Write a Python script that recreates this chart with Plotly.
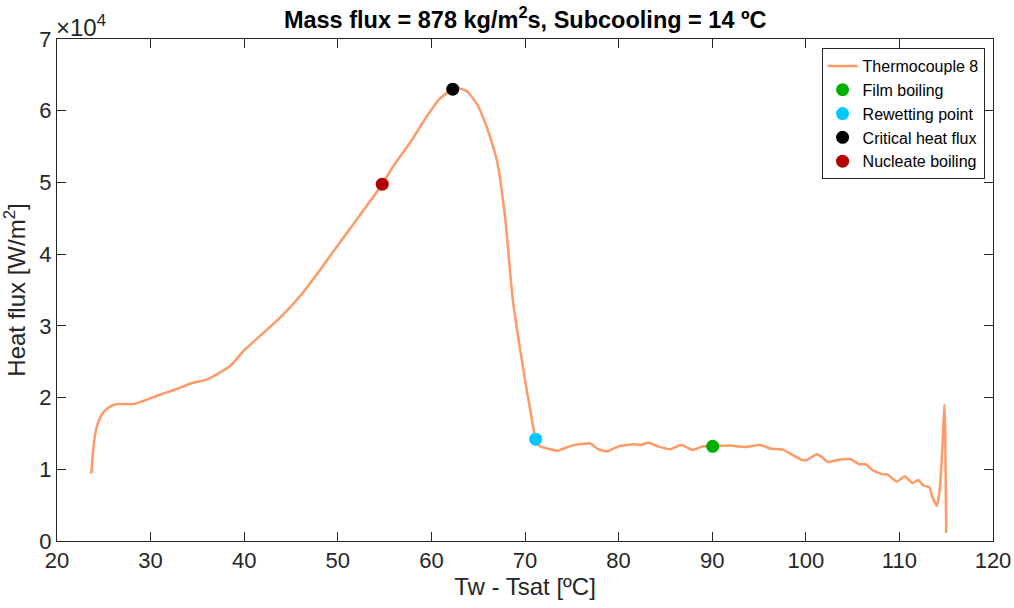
import plotly.graph_objects as go

# Thermocouple 8 curve: wall superheat [ºC] and heat flux [W/m^2]
tw_tsat = [23.66, 23.9, 24.24, 24.78, 25.5, 26.4, 28.2, 29.6, 31.0, 32.8, 34.6, 36.0,
           38.5, 40.0, 41.7, 43.8, 46.0, 48.1, 50.2, 52.4, 54.75, 55.9, 57.7, 59.5,
           60.9, 62.28, 63.0, 63.8, 64.84, 65.9, 67.0, 67.9, 68.7, 70.0, 70.5, 71.14,
           71.6, 72.7, 73.5, 75.0, 76.6, 77.0, 77.8, 78.7, 80.0, 81.6, 82.3, 83.2,
           84.2, 85.5, 86.7, 87.9, 89.0, 90.05, 91.9, 93.5, 95.1, 96.2, 97.6, 98.6,
           99.6, 100.1, 101.2, 101.7, 102.4, 103.4, 104.8, 105.7, 106.4, 107.1, 108.2,
           108.7, 109.7, 110.6, 111.4, 112.0, 112.6, 113.2, 113.5, 114.0, 114.3, 114.6,
           114.8, 114.9, 115.0]
heat_flux = [0.94, 1.32, 1.59, 1.76, 1.86, 1.91, 1.91, 1.97, 2.04, 2.12, 2.21, 2.25,
             2.44, 2.66, 2.86, 3.11, 3.42, 3.78, 4.16, 4.55, 4.975, 5.22, 5.55, 5.92,
             6.17, 6.30, 6.31, 6.27, 6.10, 5.78, 5.31, 4.48, 3.36, 2.25, 1.87, 1.42,
             1.32, 1.28, 1.26, 1.33, 1.36, 1.36, 1.28, 1.25, 1.32, 1.35, 1.34, 1.37,
             1.32, 1.28, 1.34, 1.27, 1.32, 1.32, 1.33, 1.31, 1.34, 1.29, 1.27, 1.20,
             1.13, 1.13, 1.21, 1.17, 1.10, 1.13, 1.14, 1.07, 1.07, 0.99, 0.93,
             0.93, 0.83, 0.90, 0.81, 0.85, 0.77, 0.75, 0.62, 0.49, 0.71, 1.32,
             1.90, 1.50, 0.11]
heat_flux = [v * 1e4 for v in heat_flux]

# Characteristic points
point_names = ["Film boiling", "Rewetting point", "Critical heat flux", "Nucleate boiling"]
point_x = [90.05, 71.14, 62.28, 54.75]
point_y = [1.32e4, 1.42e4, 6.30e4, 4.975e4]
point_colors = ["#00B000", "#00C8FF", "#000000", "#B40000"]

x_ticks = [20, 30, 40, 50, 60, 70, 80, 90, 100, 110, 120]
y_ticks = [0, 1e4, 2e4, 3e4, 4e4, 5e4, 6e4, 7e4]
y_tick_labels = ["0", "1", "2", "3", "4", "5", "6", "7"]

FONT = "Liberation Sans, Arial, Helvetica, sans-serif"
AXC = "#262626"

fig = go.Figure()
fig.add_trace(go.Scatter(x=tw_tsat, y=heat_flux, mode="lines", name="Thermocouple 8",
                         line=dict(color="#FF9966", width=2.5, shape="spline", smoothing=0.5)))
for n, xv, yv, c in zip(point_names, point_x, point_y, point_colors):
    fig.add_trace(go.Scatter(x=[xv], y=[yv], mode="markers", name=n,
                             marker=dict(color=c, size=13, line=dict(width=0))))

axis_common = dict(showline=True, linecolor=AXC, linewidth=1, mirror="allticks",
                   ticks="inside", ticklen=9, tickcolor=AXC, tickwidth=1,
                   showgrid=False, zeroline=False, automargin=False,
                   tickfont=dict(family=FONT, size=22, color=AXC))

fig.update_layout(
    width=1014, height=608,
    margin=dict(l=57, r=21, t=39, b=67),
    paper_bgcolor="white", plot_bgcolor="white",
    title=dict(text="<b>Mass flux = 878 kg/m<sup>2</sup>s, Subcooling = 14 ºC</b>",
               x=0.518, xanchor="center", yref="container", y=0.968, yanchor="middle",
               font=dict(family=FONT, size=23.5, color="black")),
    xaxis=dict(range=[20, 120], tickvals=x_ticks,
               title=dict(text="Tw - Tsat [ºC]", font=dict(family=FONT, size=24, color=AXC),
                          standoff=4),
               **axis_common),
    yaxis=dict(range=[0, 7e4], tickvals=y_ticks, ticktext=y_tick_labels,
               title=dict(text="Heat flux [W/m<sup>2</sup>]", font=dict(family=FONT, size=24, color=AXC),
                          standoff=10),
               **axis_common),
    legend=dict(x=0.991, xanchor="right", y=0.982, yanchor="top",
                bgcolor="white", bordercolor=AXC, borderwidth=1,
                font=dict(family=FONT, size=16, color="black"),
                itemwidth=30, tracegroupgap=0),
    showlegend=True,
)

fig.add_annotation(text="×10<sup>4</sup>", xref="paper", yref="paper", x=0.0, y=1.0,
                   xanchor="left", yanchor="bottom", showarrow=False,
                   font=dict(family=FONT, size=24, color=AXC), yshift=-4, xshift=-3)

fig.write_html("out.html", config={"displayModeBar": False},
               post_script="document.body.style.margin='0';document.body.style.overflow='hidden';")
